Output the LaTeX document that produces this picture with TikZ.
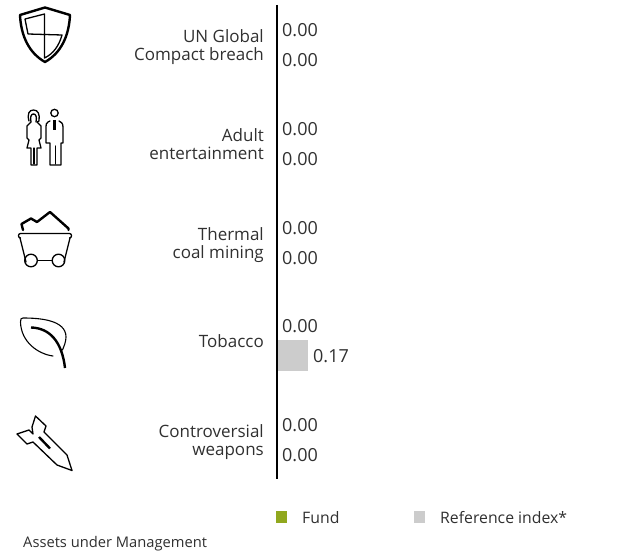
\documentclass[tikz,border=0pt]{standalone}
\usepackage{fontspec}
\setmainfont{Open Sans}
\definecolor{txt}{HTML}{303030}
\definecolor{fundgreen}{HTML}{91A81E}
\definecolor{refgrey}{HTML}{CCCCCC}
\tikzset{
  val/.style={anchor=mid west,inner sep=0pt,font=\fontsize{18}{20}\selectfont,text=txt,yshift=-3.5pt},
  lab/.style={anchor=mid east,inner sep=0pt,font=\fontsize{17}{18}\selectfont,text=txt,yshift=-3.5pt},
  leg/.style={anchor=mid west,inner sep=0pt,font=\fontsize{15.8}{18}\selectfont,text=txt,yshift=-3.5pt},
  thin icon/.style={line width=1.3pt,line join=round,line cap=round},
  thick icon/.style={line width=2.4pt,line join=round,line cap=round}
}
\begin{document}
\begin{tikzpicture}[x=1pt,y=-1pt]
\useasboundingbox (0,0) rectangle (630,551);
% bar and axis
\fill[refgrey] (277,340) rectangle (308,371);
\coordinate (axt) at (277,5);
\coordinate (axb) at (277,479);
\draw[line width=2.2pt,black] (axt) -- (axb);
% labels
\node[lab] (l1a) at (264,36) {UN Global};
\node[lab] (l1b) at (264,54) {Compact breach};
\node[lab] (l2a) at (264,135) {Adult};
\node[lab] (l2b) at (264,153) {entertainment};
\node[lab] (l3a) at (264,234) {Thermal};
\node[lab] (l3b) at (264,252) {coal mining};
\node[lab] (l4) at (264,341) {Tobacco};
\node[lab] (l5a) at (264,431) {Controversial};
\node[lab] (l5b) at (264,449) {weapons};
% values
\node[val] (v1a) at (282,30) {0.00};
\node[val] (v1b) at (282,60) {0.00};
\node[val] (v2a) at (282,129) {0.00};
\node[val] (v2b) at (282,159) {0.00};
\node[val] (v3a) at (282,228) {0.00};
\node[val] (v3b) at (282,258) {0.00};
\node[val] (v4a) at (282,326) {0.00};
\node[val] (v4b) at (313,356) {0.17};
\node[val] (v5a) at (282,425) {0.00};
\node[val] (v5b) at (282,455) {0.00};
% legend
\fill[fundgreen] (276,511) rectangle (287,523);
\fill[refgrey] (414,511) rectangle (425,523);
\node[leg] (lf) at (302,517) {Fund};
\node[leg] (lr) at (440,517) {Reference index*};
\node[anchor=mid west,inner sep=0pt,font=\fontsize{14.7}{16}\selectfont,text=txt,yshift=-3.5pt] (am) at (23,541) {Assets under Management};
% shield
\draw[thick icon] (20,15) -- (45,7.5) -- (70,15) .. controls (69,36) and (61,53) .. (45,62) .. controls (29,53) and (21,36) .. (20,15) -- cycle;
\draw[thin icon] (28,34) -- (25,19) -- (44.5,14) -- (44.5,58) .. controls (53,54) and (59,46) .. (62,35) -- (28,34);
% woman
\draw[thin icon] (29,121) .. controls (27,114) and (29,110) .. (33.5,110) .. controls (38,110) and (40,114) .. (39,121) -- (37,122);
\draw[thin icon] (31,122) .. controls (30,117) and (31,114) .. (33.5,114) .. controls (36,114) and (37,117) .. (36,122);
\draw[thin icon] (31,122) -- (27,126) -- (27,138) -- (29,140) -- (27,148) -- (31,148) -- (31,165) -- (37,165) -- (37,148) -- (41,148) -- (39,140) -- (41,138) -- (41,126) -- (37,122);
\draw[thin icon] (34,148) -- (34,164);
% man
\draw[thin icon] (54.5,113) circle[radius=3.7];
\draw[thin icon] (50,121) -- (48,122) .. controls (46,123) and (46,125) .. (46,127) -- (46,143) -- (50,143) -- (50,165) -- (61,165) -- (61,143) -- (63,143) -- (63,127) .. controls (63,123) and (61,122) .. (59,121);
\draw[thin icon] (55.5,146) -- (55.5,164);
\draw[line width=2.4pt] (54.5,120) -- (54.5,130);
% cart
\draw[thin icon,rounded corners=2pt] (20,238) -- (18.5,238) -- (18.5,233.5) -- (71.5,233.5) -- (71.5,238) -- (70,238);
\draw[thin icon] (20,238) -- (26,262);
\draw[thin icon] (70,238) -- (64,262);
\draw[thin icon] (37.5,260.5) -- (52,260.5);
\draw[thin icon] (31,260.5) circle[radius=6.3];
\draw[thin icon] (58.5,260.5) circle[radius=6.3];
\draw[thick icon] (23,230) -- (21.5,224) -- (31,218.5) -- (37,222) -- (50,212) -- (68.5,228.5) -- (68.5,230);
% leaf
\draw[line width=1.1pt,line cap=round,line join=round] (53,356) .. controls (38,354) and (21,342) .. (20.5,322) .. controls (20.5,319) and (21,318) .. (23,318) .. controls (40,318) and (66,320) .. (66,337) .. controls (66,342) and (64,346) .. (62.5,350);
\draw[line width=2.4pt] (31,327.5) .. controls (50,328) and (62,342) .. (65,368);
% rocket
\draw[thin icon] (35.5,416) -- (46,426) -- (44,432) -- (67,455) -- (72,470.5) -- (57,465) -- (33,442) -- (27,444) -- (17,434) -- (29,430) -- (33,434) -- (32,427) -- cycle;
\draw[line width=2.4pt] (39,437) -- (50,448.5);
\end{tikzpicture}
\end{document}
